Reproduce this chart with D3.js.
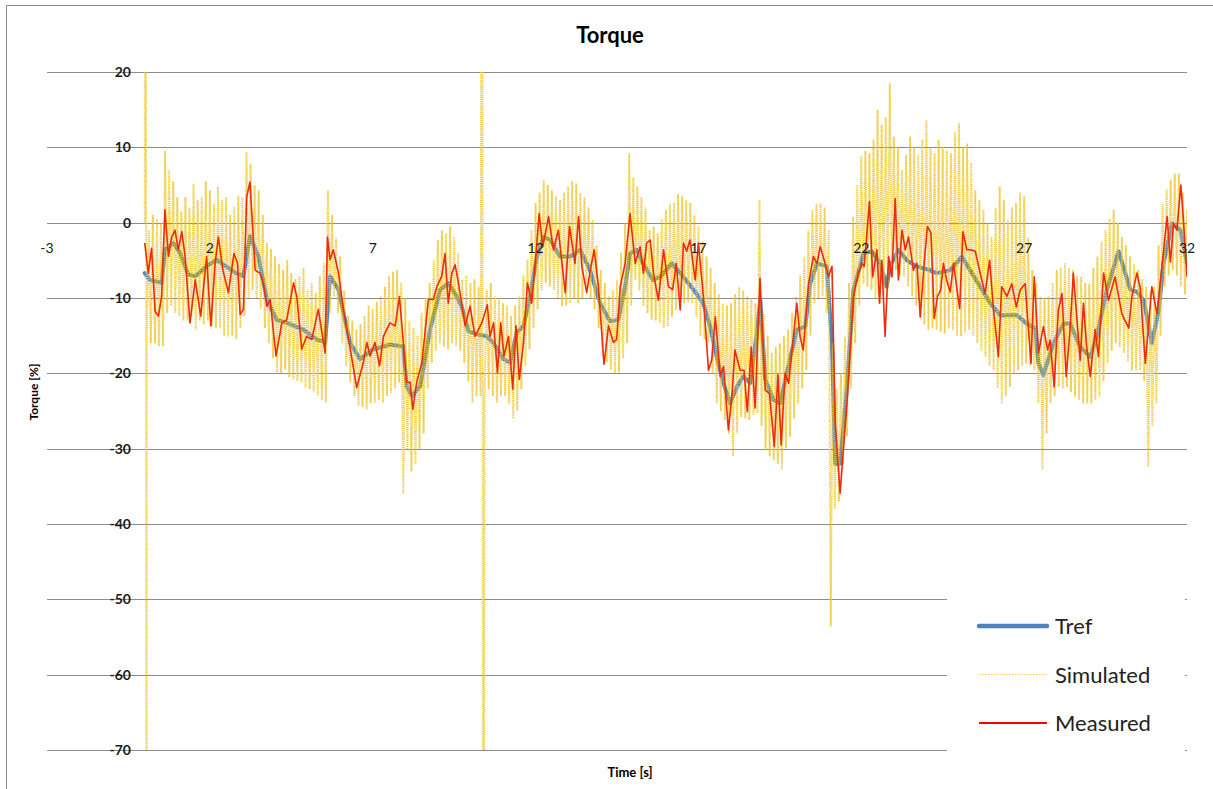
<!DOCTYPE html>
<html>
<head>
<meta charset="utf-8">
<script src="https://cdn.jsdelivr.net/npm/d3@7"></script>
<style>
  html, body { margin: 0; padding: 0; background: #fff; }
  svg { display: block; font-family: Lato, "Open Sans", "DejaVu Sans", sans-serif; }
</style>
</head>
<body>
<svg id="chart" width="1213" height="789"></svg>
<script>
// ---- axis ticks ----
const yTicks = [20, 10, 0, -10, -20, -30, -40, -50, -60, -70];
const xTicks = [-3, 2, 7, 12, 17, 22, 27, 32];

// ---- Tref: [time s, torque %] ----
const tref = [
  [0,-6.7],[0.16,-7.6],[0.52,-8],[0.62,-3.6],[0.88,-2.7],[1.08,-4],[1.34,-6.9],[1.55,-7.1],
  [1.9,-5.8],[2.2,-4.9],[2.5,-5.8],[2.8,-6.7],[3.03,-7.1],[3.23,-1.8],[3.49,-4.5],[3.75,-10.2],
  [4.05,-12.9],[4.36,-13.3],[4.87,-14.2],[5.28,-15.5],[5.54,-15.9],[5.69,-7.1],[5.95,-8.9],[6.3,-15.9],
  [6.61,-18.1],[7.02,-16.8],[7.53,-16.2],[7.94,-16.4],[8.04,-21.7],[8.2,-23],[8.46,-21.7],[8.76,-14.2],
  [9.07,-8.9],[9.32,-8],[9.58,-9.8],[9.73,-11.1],[9.94,-14.4],[10.19,-14.8],[10.5,-15.1],[10.7,-15.9],
  [11.01,-18.1],[11.22,-18.6],[11.42,-14.6],[11.63,-13.7],[11.83,-9.8],[12.04,-4.5],[12.24,-1.9],[12.45,-2.3],
  [12.75,-4.5],[13.06,-4.5],[13.37,-3.6],[13.67,-6.3],[13.98,-10.7],[14.29,-13.1],[14.54,-12.9],[14.75,-8.5],
  [14.9,-4.1],[15.1,-3.6],[15.3,-5.4],[15.6,-7.6],[15.83,-7.2],[16.18,-5.4],[16.54,-7.2],[16.85,-8.9],
  [17.15,-10.7],[17.36,-13.8],[17.56,-17.8],[17.77,-21.3],[17.97,-24],[18.18,-21.8],[18.38,-20.4],[18.59,-21.3],
  [18.79,-14.7],[18.9,-10.3],[19.05,-20.8],[19.3,-23.5],[19.51,-24],[19.71,-20],[20.02,-14.2],[20.28,-13.8],
  [20.43,-8.1],[20.64,-5.4],[20.94,-5.8],[21.1,-16],[21.2,-32],[21.35,-32],[21.56,-21.8],[21.76,-8.9],
  [22.07,-4.1],[22.32,-3.8],[22.58,-5.4],[22.78,-8.5],[22.88,-5.8],[23.14,-3.6],[23.4,-5],[23.7,-5.8],
  [24.1,-6.3],[24.3,-6.7],[24.73,-6.3],[25.09,-4.5],[25.34,-6.3],[25.65,-8.5],[25.96,-10.7],[26.27,-12.3],
  [26.78,-12.3],[27.08,-13.4],[27.34,-14],[27.44,-18.7],[27.59,-20.2],[27.9,-16],[28.21,-13.4],[28.41,-13.4],
  [28.72,-16.5],[29.03,-17.8],[29.23,-15.1],[29.54,-8.9],[29.9,-3.8],[30.26,-8.9],[30.46,-9.2],[30.67,-10.3],
  [30.92,-16],[31.13,-11.6],[31.28,-5.4],[31.54,-0.1],[31.8,-1],[32,-5.4]
];

// ---- Measured: [time s, torque %] ----
const measured = [
  [0,-2.7],[0.11,-6.7],[0.21,-3.4],[0.32,-11.8],[0.42,-12.4],[0.52,-9.8],[0.62,1.7],[0.73,-4.5],[0.83,-1.9],[0.93,-1],
  [1.03,-3.6],[1.14,-1.2],[1.24,-4.5],[1.39,-13.3],[1.55,-7.6],[1.72,-12.4],[1.9,-4.5],[2.03,-13.7],[2.16,-5.4],[2.26,-1.9],
  [2.4,-6.3],[2.57,-9.3],[2.74,-4.1],[2.85,-5.4],[2.93,-12.2],[3.03,-11.5],[3.13,3.4],[3.23,5.4],[3.32,-1],[3.39,-6.3],
  [3.54,-6.7],[3.64,-8],[3.75,-11.1],[3.85,-10.2],[4.03,-17.7],[4.21,-13.3],[4.36,-12.9],[4.57,-8],[4.67,-9.8],[4.82,-16.8],
  [4.97,-15.1],[5.13,-15.5],[5.33,-11.5],[5.54,-17.3],[5.61,-1.9],[5.69,-4.9],[5.79,-3.6],[5.95,-6.7],[6.1,-11.5],[6.31,-16.8],
  [6.51,-21.9],[6.71,-18.6],[6.82,-15.9],[6.92,-17.7],[7.07,-15.9],[7.21,-19],[7.33,-15.1],[7.53,-13.3],[7.69,-13.7],[7.82,-9.8],
  [7.94,-15.9],[8.04,-21.2],[8.15,-21.2],[8.23,-24.8],[8.35,-21.2],[8.51,-18.6],[8.71,-10.2],[8.86,-10.2],[8.97,-8.5],[9.12,-7.1],
  [9.22,-4.1],[9.32,-10.7],[9.43,-6.7],[9.53,-5.6],[9.63,-8],[9.84,-13.7],[9.99,-11.1],[10.14,-15.1],[10.35,-13.3],[10.52,-10.9],
  [10.6,-15.1],[10.71,-13.3],[10.83,-19.9],[10.93,-13.3],[11.03,-17.7],[11.17,-15.1],[11.3,-22.1],[11.4,-13.7],[11.5,-20.8],[11.63,-15.9],
  [11.75,-8],[11.88,-10.7],[11.99,-5.4],[12.11,1.2],[12.22,-3.2],[12.4,0.8],[12.55,-3.6],[12.7,-1],[12.91,-9.3],[13.04,-0.5],
  [13.21,-5.4],[13.32,0.8],[13.42,-5.8],[13.57,-9.3],[13.68,-6.3],[13.8,-3.6],[13.93,-8.5],[14.1,-18.8],[14.24,-13.7],[14.39,-15.9],
  [14.49,-15.5],[14.6,-8.5],[14.75,-5.4],[14.9,1.2],[15.06,-5.4],[15.21,-3.2],[15.31,-6.7],[15.41,-2.7],[15.52,-2.3],[15.62,-6.7],
  [15.77,-10.3],[15.93,-3.6],[16.08,-8.5],[16.21,-8.9],[16.32,-5.4],[16.44,-11.6],[16.54,-2.7],[16.64,-3.8],[16.74,-2.3],[16.9,-7.6],
  [17,-2.7],[17.15,-9.7],[17.31,-19.6],[17.41,-18.2],[17.52,-12.5],[17.67,-20.4],[17.77,-19.1],[17.92,-27.5],[18.02,-23.5],[18.12,-16.9],
  [18.28,-19.6],[18.4,-19.6],[18.5,-25.1],[18.62,-16.5],[18.74,-24.6],[18.89,-7.4],[19.05,-22.2],[19.18,-22.7],[19.33,-29.7],[19.44,-20.2],
  [19.54,-29.5],[19.66,-20],[19.77,-21.3],[20.02,-10.7],[20.12,-15.1],[20.22,-16.9],[20.38,-8.1],[20.53,-4.5],[20.64,-5.4],[20.74,-3.2],
  [20.89,-5.4],[20.99,-7.2],[21.1,-5.8],[21.2,-26.6],[21.35,-35.9],[21.56,-24],[21.76,-9.8],[21.86,-7.6],[22.01,-5.4],[22.09,-5.8],
  [22.25,2.8],[22.35,-7.2],[22.48,-3.6],[22.56,-10.7],[22.63,-5],[22.73,-15.1],[22.84,-4.5],[22.94,-7.2],[23.04,3.2],[23.14,-7.6],
  [23.25,-1],[23.35,-3.6],[23.45,-1.9],[23.6,-6.3],[23.71,-5.4],[23.81,-12.5],[23.93,-5.4],[24.03,-0.5],[24.14,-1.4],[24.24,-12.7],
  [24.34,-9.8],[24.44,-8.9],[24.52,-5.4],[24.62,-7.6],[24.73,-9.2],[24.83,-5.4],[25.02,-11.4],[25.12,-1.2],[25.24,-3.6],[25.36,-3.6],
  [25.5,-3.8],[25.65,-6.7],[25.8,-9.4],[25.94,-5],[26.06,-11.6],[26.21,-17.8],[26.31,-8.5],[26.47,-9.8],[26.62,-8.1],[26.76,-11.2],
  [26.88,-8.9],[27.03,-8.1],[27.21,-18.7],[27.31,-7.2],[27.44,-17.3],[27.59,-13.8],[27.72,-16.9],[27.8,-15.6],[27.92,-21.8],[28.05,-11.6],
  [28.16,-9.4],[28.29,-20.4],[28.41,-14.2],[28.51,-6.7],[28.62,-12.8],[28.72,-18.3],[28.82,-10.7],[28.92,-16.5],[29.03,-20.4],[29.18,-14.2],
  [29.28,-17.8],[29.44,-6.7],[29.59,-10.3],[29.79,-7.2],[30,-12.1],[30.21,-14],[30.31,-9.8],[30.46,-6.7],[30.56,-8.5],[30.72,-18.7],
  [30.92,-8.5],[31.08,-12.1],[31.23,-5.8],[31.39,0.8],[31.49,-5.2],[31.59,-0.1],[31.69,-1],[31.81,5],[31.89,0.4],[32,-7.2]
];

// ---- Simulated: sampled every simStep seconds; each sample holds a peak and a trough ----
const simStep = 0.125;
const simPeak = [
  0, -1, 1, 0.5, 0, 9.5, 7, 5.5, 3.4, 1.5, 3.4, 2, 5.2, 3, 3.4, 5.5,
  4.3, 2.5, 4.8, 3, 3.4, 1, 2.1, 3.5, 3.4, 9.4, 7.8, 5, 4.3, 1, -2.7, -3.5,
  -4.5, -5.5, -6.3, -5, -6.7, -7.5, -7.1, -6, -8.9, -8, -9.3, -7, -5.4, 4.3, 1, -2,
  -4.5, -9, -12.4, -13, -14.2, -13.5, -12.4, -11, -11.5, -10.5, -9.8, -8.5, -7.1, -6.5, -6.3, -8,
  -10, -13, -14, -15, -12, -10, -8, -5, -2.3, -1, -1.4, -0.5, -1.9, -4, -7.6, -7,
  -8, -7.5, -8.5, -9, -8.9, -8, -9.8, -10, -10.7, -11, -12.4, -11, -9.8, -7, -4.9, -1,
  2.6, 4, 5.6, 5, 4.3, 3.5, 3, 4, 4.8, 5.5, 5.2, 4, 3.4, 2, 0.4, -3,
  -6.3, -8, -9.8, -9, -7.6, -4, -0.1, 9.2, 6, 4.8, 3.4, 2, -1, -0.5, -1.4, 0.5,
  1.7, 2.5, 2.6, 3.8, 3.5, 3, 2.6, 1, -0.5, -2.5, -4.5, -6, -8, -9.5, -10.7, -11,
  -10.7, -9.5, -8.5, -9, -9.8, -10, -10.7, 3, -12, -15, -17.3, -16.5, -16, -15, -14.2, -12,
  -9.8, -7, -4.5, -1, 1.7, 2.5, 2.6, 2, -1, -16, -22, -20, -15.1, -8, 0.8, 5,
  8.8, 9.5, 9.2, 11, 15, 13, 14, 18.5, 11.4, 10, 7, 9, 11.4, 10, 9, 11,
  13.6, 10, 9.2, 11, 10, 9.5, 9.2, 12, 13.2, 10, 10.5, 8, 4.3, 3, 1.7, 0,
  -1.9, 2, 4.8, 3, 0.4, 2, 2.6, 4, 3.5, -2, -6.3, -8, -9.8, -10, -9.8, -8,
  -6.3, -6, -5.4, -6, -6.3, -7, -7.2, -8, -8.1, -6, -4.5, -2.5, -1, 0.5, 1.7, 0,
  -1.9, -3, -4.5, -5.5, -6.3, -7.5, -8.5, -9, -8.5, -3, 2.6, 4.5, 5.7, 6.5, 6.5, 4,
  1.7
];
const simTrough = [
  -15, -16, -16, -16.4, -16.4, -12, -11, -12, -12.4, -13, -13, -12.5, -14.2, -13, -13.5, -13,
  -13.7, -14, -14, -15, -15.1, -15, -15.5, -14, -12.4, -10, -8.9, -10, -11.5, -14, -16, -18,
  -19.9, -20, -19.5, -20.5, -20.8, -21, -21.2, -22, -22.1, -22.5, -23, -23.5, -23.9, -12, -9.8, -12,
  -16, -19, -21.2, -23, -24.3, -24.5, -24.8, -24, -23.9, -23.5, -23.9, -23, -22.6, -22, -21.2, -36,
  -30, -33, -32, -30, -28, -22, -18.6, -17, -16, -16.5, -16.8, -16, -16.4, -17, -18.6, -21,
  -23.9, -23, -23, -22, -22.1, -23, -23.9, -23, -23, -24, -26, -25, -22.1, -19, -16.8, -14,
  -11.5, -9, -8, -8.5, -8.9, -10, -11.1, -11, -10.7, -10, -10.7, -10, -8.9, -10, -11.5, -14,
  -17.3, -18.5, -19.5, -20, -19.9, -18, -16, -11, -7.6, -9, -11.1, -12, -12.9, -13, -13.3, -14,
  -13.8, -12.5, -11.6, -11, -10.7, -10.5, -10.7, -12.5, -15.1, -15.5, -16, -20, -24, -25, -26.2, -28,
  -31, -28, -25.8, -26, -26.2, -25.5, -25.3, -27, -30.2, -31, -31.5, -32, -32.8, -30, -28.4, -26,
  -24, -22, -19.6, -15, -10.7, -10, -9.8, -12, -53.6, -38, -37, -32, -28.4, -22, -16, -11,
  -8.1, -8.5, -8.9, -10, -10.7, -9.5, -8.9, -7, -6.3, -7, -7.2, -8.5, -9.8, -11, -12.5, -13.5,
  -14.2, -14, -14.2, -14.5, -14.7, -14, -14.2, -15, -15.1, -14.5, -14.2, -15, -16, -17, -17.8, -19,
  -19.6, -22, -24, -23, -21.8, -20, -19.6, -19, -18.7, -19, -19.6, -24, -32.8, -28, -24, -23,
  -21.8, -22, -21.8, -22.5, -23.1, -23.5, -24, -24, -24, -23.5, -23.1, -21, -18.7, -17, -16, -16.5,
  -17.3, -18.5, -19.6, -19.6, -19.6, -21, -32.4, -27, -24, -15, -8.5, -7, -6.3, -7, -8.5, -9.5,
  -10.7
];
// Out-of-range bursts in the simulated signal: [time s, high, low]
const simBursts = [[0.03, 150, -150], [10.37, 150, -150]];

// ---- layout ----
const svg = d3.select("#chart");
const plot = { left: 47, right: 1187, top: 72, bottom: 750 };
const x = d3.scaleLinear().domain([-3, 32]).range([plot.left, plot.right]);
const y = d3.scaleLinear().domain([-70, 20]).range([plot.bottom, plot.top]);

// outer chart frame
svg.append("path")
  .attr("d", "M6.5,800 V5.5 H1220")
  .attr("fill", "none").attr("stroke", "#8a8a8a").attr("stroke-width", 1);

svg.append("defs").append("clipPath").attr("id", "plotClip")
  .append("rect")
  .attr("x", plot.left).attr("y", plot.top)
  .attr("width", plot.right - plot.left).attr("height", plot.bottom - plot.top);

// horizontal gridlines
svg.append("g").selectAll("line").data(yTicks).join("line")
  .attr("x1", x(-3)).attr("x2", x(32))
  .attr("y1", d => Math.round(y(d)) + 0.5).attr("y2", d => Math.round(y(d)) + 0.5)
  .attr("stroke", "#8c8c8c").attr("stroke-width", 1);

const line = d3.line().x(d => x(d[0])).y(d => y(d[1]));
const series = svg.append("g").attr("clip-path", "url(#plotClip)");

// Tref (thick, under the others)
series.append("path").datum(tref)
  .attr("d", line)
  .attr("fill", "none").attr("stroke", "#4f81bd").attr("stroke-width", 4)
  .attr("stroke-linejoin", "round").attr("stroke-linecap", "round");

// Simulated: peak at each sample, trough half a step later
const simPoints = [];
simPeak.forEach((v, i) => {
  simPoints.push([i * simStep, v]);
  simPoints.push([i * simStep + simStep / 2, simTrough[i]]);
});
simBursts.forEach(b => {
  simPoints.push([b[0], b[1]]);
  simPoints.push([b[0] + 0.03, b[2]]);
});
simPoints.sort((a, b) => a[0] - b[0]);

series.append("path").datum(simPoints)
  .attr("d", line)
  .attr("fill", "none").attr("stroke", "#edc424").attr("stroke-width", 1.9)
  .attr("stroke-dasharray", "1.4 0.7").attr("stroke-opacity", 0.8);

// Measured
series.append("path").datum(measured)
  .attr("d", line)
  .attr("fill", "none").attr("stroke", "#f02a0a").attr("stroke-width", 1.6)
  .attr("stroke-linejoin", "round");

// y tick labels (left of the time-zero axis)
svg.append("g").selectAll("text").data(yTicks).join("text")
  .attr("x", 131).attr("y", d => y(d) + 5)
  .attr("text-anchor", "end")
  .attr("font-size", 14).attr("font-weight", "bold").attr("fill", "#1a1a1a")
  .text(d => d);

// x tick labels (below the zero line)
svg.append("g").selectAll("text").data(xTicks).join("text")
  .attr("x", d => x(d)).attr("y", y(0) + 30)
  .attr("text-anchor", "middle")
  .attr("font-size", 14).attr("fill", "#1a1a1a")
  .text(d => d);

// titles
svg.append("text").attr("x", 610).attr("y", 43).attr("text-anchor", "middle")
  .attr("font-size", 22).attr("font-weight", "bold").attr("fill", "#000").text("Torque");
svg.append("text").attr("x", 630).attr("y", 777).attr("text-anchor", "middle")
  .attr("font-size", 13).attr("font-weight", "bold").attr("fill", "#000").text("Time [s]");
svg.append("text").attr("transform", "translate(38,392) rotate(-90)").attr("text-anchor", "middle")
  .attr("font-size", 12).attr("font-weight", "bold").attr("fill", "#000").text("Torque [%]");

// legend
const legendItems = ["Tref", "Simulated", "Measured"];
const legendStyle = {
  Tref: { stroke: "#4f81bd", width: 4.5, dash: null, cap: "round" },
  Simulated: { stroke: "#ffd24d", width: 1.2, dash: "1.5 1.5", cap: "butt" },
  Measured: { stroke: "#ff0000", width: 1.8, dash: null, cap: "butt" }
};
const legend = svg.append("g");
legend.append("rect").attr("x", 947).attr("y", 588).attr("width", 238).attr("height", 170).attr("fill", "#fff");
const rows = legend.selectAll("g").data(legendItems).join("g")
  .attr("transform", (d, i) => `translate(0,${626 + i * 48.5})`);
rows.append("line").attr("x1", 979).attr("x2", 1047).attr("y1", 0).attr("y2", 0)
  .attr("stroke", d => legendStyle[d].stroke)
  .attr("stroke-width", d => legendStyle[d].width)
  .attr("stroke-dasharray", d => legendStyle[d].dash)
  .attr("stroke-linecap", d => legendStyle[d].cap);
rows.append("text").attr("x", 1055).attr("y", 8)
  .attr("font-size", 22).attr("fill", "#222").text(d => d);
</script>
</body>
</html>
